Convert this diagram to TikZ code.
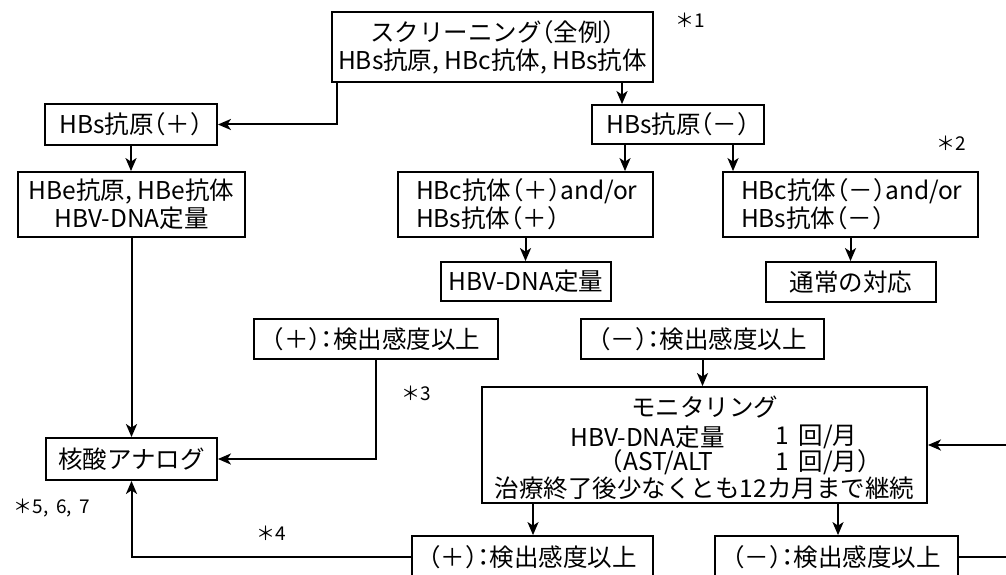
\documentclass[tikz,border=0pt]{standalone}
\usepackage{fontspec}
\setmainfont[RawFeature=+halt]{Noto Sans CJK JP}
\usetikzlibrary{arrows.meta}
\begin{document}
\begin{tikzpicture}[x=1pt,y=-1pt,
  box/.style={draw, line width=1.8pt, inner sep=0pt, align=center, font=\fontsize{24.5pt}{28pt}\selectfont},
  bx/.style 2 args={box, minimum width=#1, minimum height=#2},
  lbx/.style 2 args={box, align=left, inner xsep=18pt, text width=#1-36pt, minimum height=#2},
  txt/.style={inner sep=0pt, font=\fontsize{24.5pt}{28pt}\selectfont},
  note/.style={inner sep=0pt, font=\fontsize{19pt}{20pt}\selectfont},
  arr/.style={line width=2pt, -{Stealth[length=13pt,width=11pt,inset=3.5pt]}}]
\useasboundingbox (0,0) rectangle (1006,575);
\fill[white] (0,0) rectangle (1006,575);

\node[bx={321}{70}] (top) at (492.5,47) {スクリーニング（全例）\\HBs抗原, HBc抗体, HBs抗体};
\node[bx={172}{41}] (hbsp) at (131,124.5) {HBs抗原（＋）};
\node[bx={227}{65}] (hbe) at (131.5,204.5) {HBe抗原, HBe抗体\\HBV-DNA定量};
\node[bx={172}{39}] (hbsm) at (678,124.5) {HBs抗原（－）};
\node[lbx={255}{65}] (hbcp) at (525.5,204.5) {HBc抗体（＋）and/or\\HBs抗体（＋）};
\node[lbx={255}{65}] (hbcm) at (850.5,204.5) {HBc抗体（－）and/or\\HBs抗体（－）};
\node[bx={170}{39}] (dna) at (526,281.5) {HBV-DNA定量};
\node[bx={170}{40}] (norm) at (851,282) {通常の対応};
\node[bx={244}{40}] (pp1) at (376,339) {（＋）：検出感度以上};
\node[bx={243}{40}] (pm1) at (702.5,339) {（－）：検出感度以上};
\node[bx={171}{42}] (ana) at (131.5,459) {核酸アナログ};
\node[bx={445}{116}] (mon) at (704.5,445) {};
\node[bx={241}{42}] (pp2) at (532.5,557) {（＋）：検出感度以上};
\node[bx={243}{42}] (pm2) at (836.5,557) {（－）：検出感度以上};

\node[txt] (m1) at (704.5,407) {モニタリング};
\node[txt,anchor=west] (m2a) at (570,437) {HBV-DNA定量};
\node[txt,anchor=west] (m2b) at (775,437) {1\hspace{0.4em}回/月};
\node[txt,anchor=west] (m3a) at (611,462) {（AST/ALT};
\node[txt,anchor=west] (m3b) at (775,462) {1\hspace{0.4em}回/月）};
\node[txt] (m4) at (704.5,488) {治療終了後少なくとも12カ月まで継続};

\node[note] (n1) at (690,20) {＊1};
\node[note] (n2) at (951,143) {＊2};
\node[note] (n3) at (416,393) {＊3};
\node[note] (n4) at (271,533) {＊4};
\node[note] (n5) at (52,508) {＊5,\hspace{0.4em}6,\hspace{0.4em}7};

\coordinate (c1) at (622,0);
\coordinate (c2) at (625,0);
\coordinate (c3) at (733,0);
\coordinate (c4) at (533,0);
\coordinate (c5) at (838,0);
\coordinate (r) at (1020,0);

\draw[arr] (top.south -| c1) -- (hbsm.north -| c1);
\draw[arr] ([xshift=6pt]top.south west) |- (hbsp.east);
\draw[arr] (hbsp.south) -- (hbsp.south |- hbe.north);
\draw[arr] (hbe.south) -- (hbe.south |- ana.north);
\draw[arr] (hbsm.south -| c2) -- (hbcp.north -| c2);
\draw[arr] (hbsm.south -| c3) -- (hbcm.north -| c3);
\draw[arr] (hbcp.south) -- (hbcp.south |- dna.north);
\draw[arr] (hbcm.south) -- (hbcm.south |- norm.north);
\draw[arr] (pp1.south) |- (ana.east);
\draw[arr] (pm1.south) -- (pm1.south |- mon.north);
\draw[arr] (mon.south -| c4) -- (pp2.north -| c4);
\draw[arr] (mon.south -| c5) -- (pm2.north -| c5);
\draw[arr] (pp2.west) -| (ana.south);
\draw[arr] (pm2.east) -- (pm2.east -| r) |- (mon.east);
\end{tikzpicture}
\end{document}
